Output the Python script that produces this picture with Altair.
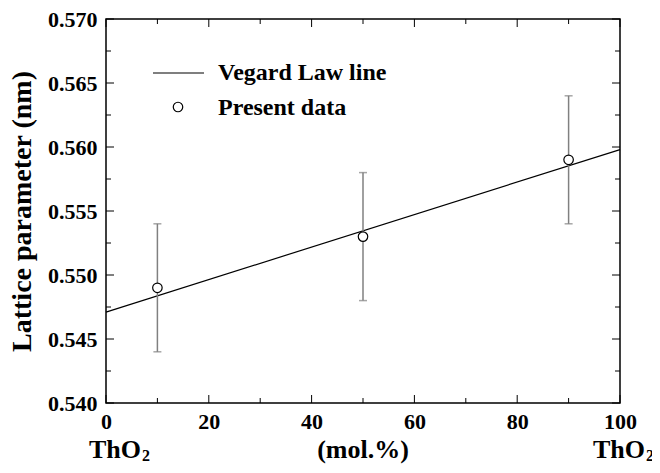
import altair as alt
import pandas as pd

# ---- data ----
comp = [10, 50, 90]                 # mol.%
lattice = [0.549, 0.553, 0.559]     # nm
err = [0.005, 0.005, 0.005]
vegard_x = [0, 100]
vegard_y = [0.5471, 0.5598]
x_major = [0, 20, 40, 60, 80, 100]
x_minor = [10, 30, 50, 70, 90]
y_major = [0.540, 0.545, 0.550, 0.555, 0.560, 0.565, 0.570]
y_minor = [0.5425, 0.5475, 0.5525, 0.5575, 0.5625, 0.5675]
legend_labels = ["Vegard Law line", "Present data"]
end_label = "ThO"
end_sub = "2"
x_title = "(mol.%)"
y_title = "Lattice parameter (nm)"

W, H = 514, 384
FONT = "Liberation Serif"

pts = pd.DataFrame({"x": comp, "y": lattice, "e": err})
line_df = pd.DataFrame({"x": vegard_x, "y": vegard_y})
xmaj = pd.DataFrame({"x": x_major})
xmin = pd.DataFrame({"x": x_minor})
ymaj = pd.DataFrame({"y": y_major})
ymin = pd.DataFrame({"y": y_minor})
ends = pd.DataFrame({"x": vegard_x})
mid = pd.DataFrame({"x": [sum(vegard_x) / 2]})

xs = alt.Scale(domain=[0, 100], nice=False)
ys = alt.Scale(domain=[0.540, 0.570], nice=False, zero=False)

xaxis = alt.Axis(values=x_major, ticks=False, domain=False, grid=False, labelFlush=False,
                 labelFont=FONT, labelFontWeight="bold", labelFontSize=22,
                 labelColor="black", labelPadding=8, title=None)
yaxis = alt.Axis(values=y_major, format=".3f", ticks=False, domain=False, labelFlush=False,
                 grid=False, labelFont=FONT, labelFontWeight="bold", labelFontSize=22,
                 labelColor="black", labelPadding=9,
                 title=y_title, titleFont=FONT, titleFontWeight="bold",
                 titleFontSize=28, titleColor="black", titlePadding=11)

X = lambda f="x": alt.X(f"{f}:Q", scale=xs)
Y = lambda f="y": alt.Y(f"{f}:Q", scale=ys)

vegard = alt.Chart(line_df).mark_line(color="black", strokeWidth=1.2).encode(
    x=alt.X("x:Q", scale=xs, axis=xaxis),
    y=alt.Y("y:Q", scale=ys, axis=yaxis),
)

base_pts = alt.Chart(pts).transform_calculate(lo="datum.y - datum.e", hi="datum.y + datum.e")
ecol = "#808080"
ebar = base_pts.mark_rule(color=ecol, strokeWidth=1.5).encode(x=X(), y=Y("lo"), y2="hi:Q")
cap_lo = base_pts.mark_tick(orient="horizontal", size=8, thickness=1.5, color=ecol).encode(
    x=X(), y=Y("lo"))
cap_hi = base_pts.mark_tick(orient="horizontal", size=8, thickness=1.5, color=ecol).encode(
    x=X(), y=Y("hi"))
points = alt.Chart(pts).mark_point(shape="circle", size=90, fill="white", stroke="black",
                                   strokeWidth=1.2, opacity=1, fillOpacity=1).encode(
    x=X(), y=Y())

def xticks(df, length):
    b = alt.Chart(df).mark_rule(color="black", strokeWidth=1).encode(
        x=X(), y=alt.value(H), y2=alt.value(H - length))
    t = alt.Chart(df).mark_rule(color="black", strokeWidth=1).encode(
        x=X(), y=alt.value(0), y2=alt.value(length))
    return [b, t]

def yticks(df, length):
    l = alt.Chart(df).mark_rule(color="black", strokeWidth=1).encode(
        y=Y(), x=alt.value(0), x2=alt.value(length))
    r = alt.Chart(df).mark_rule(color="black", strokeWidth=1).encode(
        y=Y(), x=alt.value(W), x2=alt.value(W - length))
    return [l, r]

ticks = xticks(xmaj, 8) + xticks(xmin, 5) + yticks(ymaj, 8) + yticks(ymin, 5)

one = line_df.head(1)
leg_line = alt.Chart(one).mark_rule(color="black", strokeWidth=1.2).encode(
    x=alt.value(47), x2=alt.value(98), y=alt.value(54))
leg_pt = alt.Chart(one).mark_point(shape="circle", size=90, fill="white",
                                   stroke="black", strokeWidth=1.2, opacity=1).encode(
    x=alt.value(72), y=alt.value(88))
txt = dict(font=FONT, fontWeight="bold", fontSize=24, align="left",
           baseline="alphabetic", color="black")
leg_t1 = alt.Chart(one).mark_text(**txt).encode(
    x=alt.value(112), y=alt.value(61), text=alt.value(legend_labels[0]))
leg_t2 = alt.Chart(one).mark_text(**txt).encode(
    x=alt.value(112), y=alt.value(96), text=alt.value(legend_labels[1]))

big = dict(font=FONT, fontWeight="bold", fontSize=26, align="left",
           baseline="alphabetic", color="black")
sub = dict(font=FONT, fontWeight="bold", fontSize=16, align="left",
           baseline="alphabetic", color="black")
ends_left = alt.Chart(ends.head(1)).mark_text(dx=-17, **big).encode(
    x=X(), y=alt.value(H + 55), text=alt.value(end_label))
ends_left_sub = alt.Chart(ends.head(1)).mark_text(dx=36, **sub).encode(
    x=X(), y=alt.value(H + 58), text=alt.value(end_sub))
ends_right = alt.Chart(ends.tail(1)).mark_text(dx=-27, **big).encode(
    x=X(), y=alt.value(H + 55), text=alt.value(end_label))
ends_right_sub = alt.Chart(ends.tail(1)).mark_text(dx=26, **sub).encode(
    x=X(), y=alt.value(H + 58), text=alt.value(end_sub))
xtitle = alt.Chart(mid).mark_text(font=FONT, fontWeight="bold", fontSize=26, align="center",
                                  baseline="alphabetic", color="black").encode(
    x=X(), y=alt.value(H + 55), text=alt.value(x_title))

chart = alt.layer(
    vegard, ebar, cap_lo, cap_hi, points, *ticks,
    leg_line, leg_pt, leg_t1, leg_t2,
    ends_left, ends_left_sub, ends_right, ends_right_sub, xtitle,
).properties(
    width=W, height=H,
    autosize=alt.AutoSizeParams(type="none"),
    padding={"left": 98, "top": 11, "right": 32, "bottom": 62},
).configure_view(stroke="black", strokeWidth=1.5)

chart.save("out.html", embed_options={"renderer": "svg", "actions": False})
